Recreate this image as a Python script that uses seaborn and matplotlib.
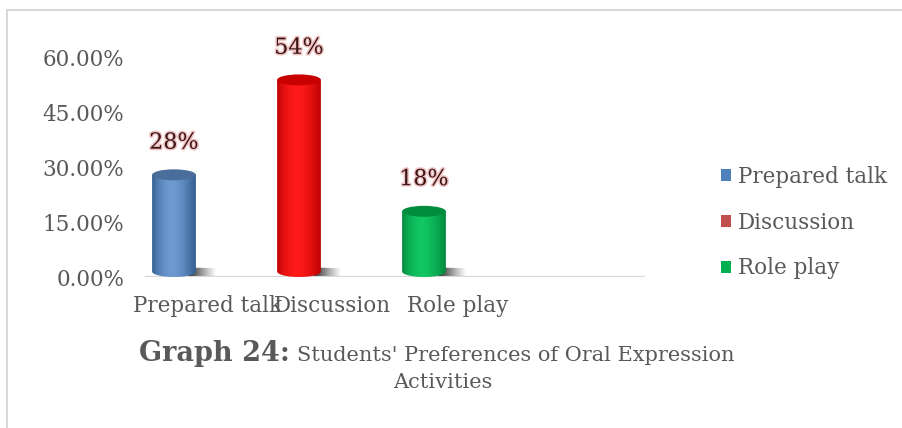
import numpy as np
import pandas as pd
import seaborn as sns
import matplotlib
matplotlib.use("Agg")
import matplotlib.pyplot as plt
from matplotlib.path import Path
from matplotlib.patches import Patch, Ellipse
from matplotlib.lines import Line2D
from matplotlib.colors import to_rgb
import matplotlib.patheffects as pe

# Survey results
categories = ["Prepared talk", "Discussion", "Role play"]
shares = [0.28, 0.54, 0.18]
value_labels = ["28%", "54%", "18%"]
yticks = [0.0, 0.15, 0.30, 0.45, 0.60]

legend_colors = ["#4f81bd", "#c0504d", "#00b050"]
body_dark = ["#2d5a8c", "#b80000", "#00853a"]
body_light = ["#6f9bd3", "#ff1a1a", "#12c763"]
cap_colors = ["#4a6e9c", "#c80000", "#008c3e"]

TEXT = "#595959"
GRID = "#d9d9d9"

sns.set_theme(style="white")
plt.rcParams["font.family"] = ["DejaVu Serif"]

fig = plt.figure(figsize=(9.02, 4.28), dpi=100)
ax = fig.add_axes([145 / 902, 1 - 277 / 428, 500 / 902, 219 / 428])

df = pd.DataFrame({"activity": categories, "share": shares})
sns.barplot(data=df, x="activity", y="share", hue="activity", order=categories,
            palette=legend_colors, width=0.35, legend=False, ax=ax)

ax.set_xlim(-0.5, 3.5)
ax.set_ylim(0, 0.6)
ax.set_xlabel("")
ax.set_ylabel("")
for s in ax.spines.values():
    s.set_visible(False)
ax.axhline(0, color=GRID, lw=2.4, zorder=1)

ax.set_yticks(yticks)
ax.set_yticklabels([f"{v * 100:.2f}%" for v in yticks])
ax.tick_params(axis="y", length=0, pad=15, labelsize=15.5, labelcolor=TEXT)
ax.tick_params(axis="x", length=0, pad=13, labelsize=15.5, labelcolor=TEXT)

# perspective offset of the 3-D cylinders relative to their category slot
depth_shift = -0.268
ry = 0.015  # vertical radius of the cylinder ends, in data units

t = np.linspace(0, 1, 200)
profile = np.clip(np.sin(np.pi * t), 0, 1) ** 0.7
profile = profile * (1 - 0.35 * np.clip((t - 0.45) / 0.55, 0, 1))

for i, patch in enumerate(ax.patches[:len(categories)]):
    x0 = patch.get_x() + depth_shift
    w = patch.get_width()
    h = patch.get_height()
    x1 = x0 + w
    cx = x0 + w / 2
    patch.set_visible(False)

    # body outline with a rounded foot
    ang = np.linspace(np.pi, 2 * np.pi, 40)
    foot = np.column_stack([cx + (w / 2) * np.cos(ang), ry + ry * np.sin(ang)])
    verts = np.vstack([[x0, h], [x0, ry], foot, [x1, ry], [x1, h], [x0, h]])
    body = Path(verts)

    # drop shadow at the base
    sh_w = 0.17
    sh = np.linspace(1, 0, 100) ** 1.2
    sh_img = np.zeros((1, 100, 4))
    sh_img[..., :3] = 0.12
    sh_img[0, :, 3] = sh
    sim = ax.imshow(sh_img, extent=(x1 - 0.06, x1 + sh_w, 0, 0.026),
                    aspect="auto", zorder=2, interpolation="bilinear")
    shadow = Path([[x1 - 0.06, 0.003], [x1 + sh_w - 0.02, 0.003],
                   [x1 + sh_w, 0.024], [x1 - 0.06, 0.026], [x1 - 0.06, 0.003]])
    sim.set_clip_path(shadow, ax.transData)

    dark = np.array(to_rgb(body_dark[i]))
    light = np.array(to_rgb(body_light[i]))
    img = dark[None, :] + (light - dark)[None, :] * profile[:, None]
    im = ax.imshow(img[None, :, :], extent=(x0, x1, 0, h), aspect="auto",
                   zorder=3, interpolation="bilinear")
    im.set_clip_path(body, ax.transData)

    ax.add_patch(Ellipse((cx, h), w, 2 * ry, angle=0, facecolor=cap_colors[i],
                         edgecolor="none", zorder=4))

    ax.text(cx, shares[i] + 0.088, value_labels[i], ha="center", va="center",
            fontsize=16, color="#3b1414", zorder=5, clip_on=False,
            path_effects=[pe.withStroke(linewidth=2.2, foreground="#f0c4c4")])

ax.set_xlim(-0.5, 3.5)
ax.set_ylim(0, 0.6)

handles = [Patch(facecolor=c, edgecolor="none") for c in legend_colors]
fig.legend(handles, categories, loc="upper left", bbox_to_anchor=(721 / 902, 1 - 166 / 428),
           frameon=False, fontsize=15.5, labelcolor=TEXT, handlelength=0.48,
           handleheight=0.48, handletextpad=0.3, labelspacing=1.1,
           borderpad=0, borderaxespad=0)

# caption
fig.text(290 / 902, 1 - 361 / 428, "Graph 24:", ha="right", va="baseline",
         fontsize=19.5, fontweight="bold", color=TEXT)
fig.text(297 / 902, 1 - 361 / 428, "Students' Preferences of Oral Expression",
         ha="left", va="baseline", fontsize=15, color=TEXT)
fig.text(443 / 902, 1 - 388 / 428, "Activities", ha="center", va="baseline",
         fontsize=15, color=TEXT)

# outer frame edges
fig.add_artist(Line2D([7 / 902, 1], [1 - 10 / 428] * 2, transform=fig.transFigure,
                      color=GRID, lw=1.5))
fig.add_artist(Line2D([7 / 902] * 2, [0, 1 - 10 / 428], transform=fig.transFigure,
                      color=GRID, lw=1.5))

fig.savefig("out.png", dpi=100, facecolor="white")
